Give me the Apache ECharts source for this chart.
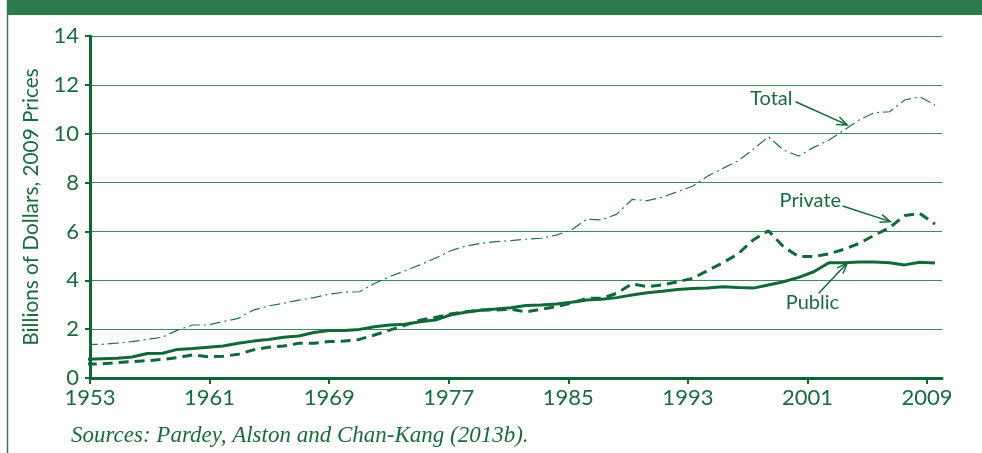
<!DOCTYPE html>
<html><head><meta charset="utf-8">
<script src="https://cdn.jsdelivr.net/npm/echarts@6/dist/echarts.min.js"></script>
<style>html,body{margin:0;padding:0;background:#fff}#c{width:982px;height:453px}</style>
</head><body><div id="c"></div>
<script>
const years = [];
for (let y = 1953; y <= 2009; y++) years.push(y);
const publicVals = [0.77,0.79,0.81,0.86,1.00,1.01,1.17,1.21,1.26,1.31,1.42,1.51,1.58,1.67,1.72,1.86,1.94,1.94,1.99,2.10,2.17,2.20,2.30,2.37,2.58,2.69,2.77,2.82,2.88,2.97,2.99,3.03,3.10,3.19,3.22,3.29,3.40,3.49,3.55,3.62,3.66,3.68,3.74,3.70,3.68,3.81,3.94,4.12,4.35,4.72,4.72,4.75,4.75,4.72,4.63,4.74,4.71];
const privateVals = [0.57,0.58,0.63,0.67,0.71,0.76,0.83,0.95,0.87,0.89,0.97,1.15,1.26,1.31,1.42,1.42,1.49,1.51,1.58,1.76,1.96,2.16,2.37,2.48,2.62,2.71,2.78,2.78,2.82,2.71,2.81,2.92,3.06,3.26,3.26,3.47,3.85,3.74,3.81,3.94,4.08,4.40,4.72,5.08,5.65,6.03,5.37,4.97,4.97,5.08,5.27,5.51,5.85,6.15,6.65,6.74,6.30];
const totalVals = [1.38,1.38,1.43,1.49,1.58,1.67,1.96,2.17,2.17,2.31,2.44,2.78,2.95,3.06,3.19,3.29,3.43,3.51,3.53,3.87,4.15,4.39,4.63,4.90,5.20,5.40,5.51,5.58,5.62,5.68,5.72,5.85,6.06,6.50,6.47,6.71,7.31,7.26,7.40,7.63,7.85,8.27,8.58,8.89,9.36,9.88,9.33,9.09,9.44,9.74,10.15,10.56,10.86,10.90,11.38,11.51,11.17];
const xTicks = [1953,1961,1969,1977,1985,1993,2001,2009];
const yTicks = [0,2,4,6,8,10,12,14];
const seriesNames = ['Total','Private','Public'];
const yAxisTitle = 'Billions of Dollars, 2009 Prices';
const sourceText = 'Sources: Pardey, Alston and Chan-Kang (2013b).';

const GREEN = '#11693a';
const TXT = '#1a6b3e';
const FONT = 'Lato, "Noto Sans", sans-serif';

const chart = echarts.init(document.getElementById('c'), null, {renderer: 'canvas'});
const pairs = arr => years.map((y, i) => [y, arr[i]]);

chart.setOption({
  animation: false,
  backgroundColor: '#ffffff',
  grid: {left: 90, right: 40, top: 36, bottom: 75, containLabel: false},
  xAxis: [{
    type: 'value', min: 1953, max: 2010, interval: 8,
    axisLine: {show: true, onZero: false, lineStyle: {color: '#0d6634', width: 3}},
    axisTick: {show: true, customValues: xTicks, length: 6, lineStyle: {color: '#0d6634', width: 2}},
    axisLabel: {customValues: xTicks, color: TXT, fontSize: 22, fontFamily: FONT, margin: 9, formatter: v => String(v)},
    splitLine: {show: false}
  }, {
    type: 'value', min: 1953.218, max: 2009.463, show: false
  }],
  yAxis: {
    type: 'value', min: 0, max: 14, interval: 2,
    axisLabel: {customValues: yTicks, color: TXT, fontSize: 22, fontFamily: FONT, margin: 11},
    name: yAxisTitle, nameLocation: 'middle', nameGap: 48, nameRotate: 90,
    nameTextStyle: {color: TXT, fontSize: 20.8, fontFamily: FONT},
    axisLine: {show: true, lineStyle: {color: '#0d6634', width: 3}},
    axisTick: {show: true, length: 5, lineStyle: {color: '#0d6634', width: 2}},
    splitLine: {show: true, lineStyle: {color: '#3d8a5c', width: 1}}
  },
  series: [
    {name: seriesNames[0], type: 'line', xAxisIndex: 1, data: pairs(totalVals), showSymbol: false, clip: false,
     lineStyle: {color: '#1f7544', width: 1.2, type: [11, 4, 2, 4]}},
    {name: seriesNames[1], type: 'line', xAxisIndex: 1, data: pairs(privateVals), showSymbol: false, clip: false,
     lineStyle: {color: GREEN, width: 3, type: [10, 6]}},
    {name: seriesNames[2], type: 'line', xAxisIndex: 1, data: pairs(publicVals), showSymbol: false, clip: false,
     lineStyle: {color: GREEN, width: 3, type: 'solid'}}
  ]
});

// annotations in data coordinates of the visible axes
const annotations = [
  {text: seriesNames[0], at: [1998.58, 11.46], from: [2000.2, 11.31], to: [2003.65, 10.36]},
  {text: seriesNames[1], at: [2001.19, 7.25], from: [2003.35, 7.04], to: [2006.55, 6.40]},
  {text: seriesNames[2], at: [2001.33, 3.07], from: [2001.75, 3.47], to: [2003.65, 4.70]}
];
const px = p => chart.convertToPixel({xAxisIndex: 0, yAxisIndex: 0}, p);
const g = [];
g.push({type: 'rect', shape: {x: 7, y: 0, width: 975, height: 15}, style: {fill: '#2e7a4f'}, silent: true});
g.push({type: 'line', shape: {x1: 7.5, y1: 0, x2: 7.5, y2: 453}, style: {stroke: '#2e7a4f', lineWidth: 1.5}, silent: true});
annotations.forEach(a => {
  const t = px(a.at), p0 = px(a.from), p1 = px(a.to);
  g.push({type: 'text', x: t[0], y: t[1], style: {text: a.text, fill: TXT, font: '20px ' + FONT,
    align: 'center', verticalAlign: 'middle', textAlign: 'center', textVerticalAlign: 'middle'}});
  g.push({type: 'polyline', shape: {points: [p0, p1]}, style: {stroke: GREEN, lineWidth: 1.5, fill: null}});
  const ang = Math.atan2(p1[1] - p0[1], p1[0] - p0[0]), L = 11, s = 0.38;
  const h1 = [p1[0] - L * Math.cos(ang - s), p1[1] - L * Math.sin(ang - s)];
  const h2 = [p1[0] - L * Math.cos(ang + s), p1[1] - L * Math.sin(ang + s)];
  g.push({type: 'polyline', shape: {points: [h1, p1, h2]}, style: {stroke: GREEN, lineWidth: 1.5, fill: null}});
});
g.push({type: 'text', x: 71, y: 435.5, style: {text: sourceText, fill: TXT, font: 'italic 23px "Liberation Serif", serif',
  align: 'left', verticalAlign: 'middle', textAlign: 'left', textVerticalAlign: 'middle'}});
chart.setOption({graphic: g});
</script>
</body></html>
